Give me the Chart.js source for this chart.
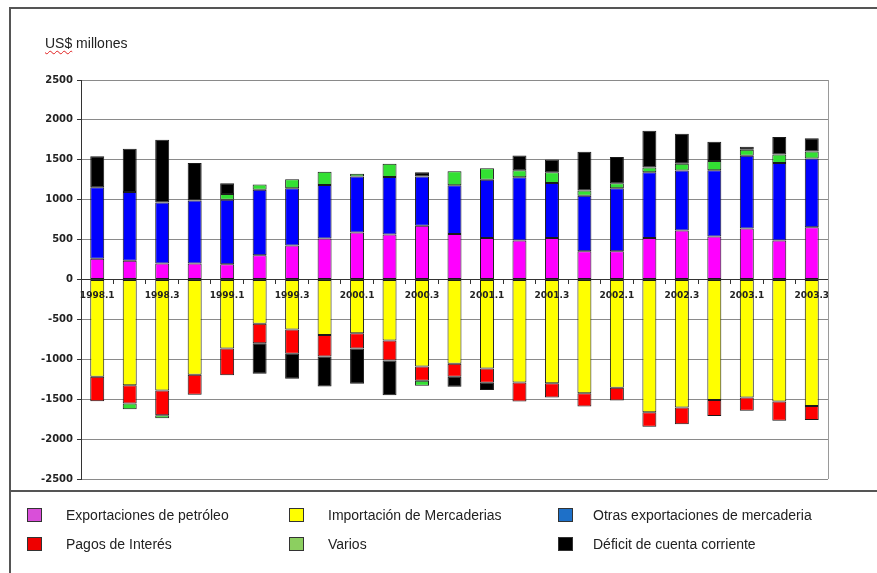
<!DOCTYPE html>
<html lang="es">
<head>
<meta charset="utf-8">
<title>Balanza de pagos trimestral</title>
<script src="https://cdn.jsdelivr.net/npm/chart.js@4/dist/chart.umd.min.js"></script>
<style>
  html, body { margin: 0; padding: 0; background: #fff; }
  body { width: 877px; height: 573px; position: relative; overflow: hidden; font-family: "Liberation Sans", Arial, sans-serif; }
  #wrap { position: absolute; left: 0; top: 0; width: 877px; height: 573px; }
  .frame { position: absolute; left: 9px; top: 7px; width: 900px; height: 600px; border-left: 2px solid #555; border-top: 2px solid #555; box-sizing: border-box; pointer-events: none; }
  .sep { position: absolute; left: 10px; top: 490px; width: 880px; height: 0; border-top: 2px solid #555; }
  .unit { position: absolute; left: 45px; top: 35px; font-size: 14px; color: #222; white-space: nowrap; }
  .unit .sq { text-decoration: underline wavy #e02020; text-decoration-thickness: 1px; text-underline-offset: 2px; }
  .lg { position: absolute; display: flex; align-items: center; font-size: 14px; color: #222; white-space: nowrap; }
  .lg .box { width: 13px; height: 12px; border: 1px solid #333; flex: none; }
</style>
</head>
<body>
<div id="wrap"><canvas id="c" width="877" height="573"></canvas></div>
<div class="frame"></div>
<div class="sep"></div>
<div class="unit"><span class="sq">US$</span> millones</div>
<div id="legend"></div>
<script>
// Trimestres 1998.1 – 2003.3
const trimestres = ['1998.1','1998.2','1998.3','1998.4','1999.1','1999.2','1999.3','1999.4',
  '2000.1','2000.2','2000.3','2000.4','2001.1','2001.2','2001.3','2001.4',
  '2002.1','2002.2','2002.3','2002.4','2003.1','2003.2','2003.3'];

// US$ millones por trimestre
const exportPetroleo = [260, 235, 200, 200, 190, 305, 425, 515, 590, 565, 675, 570, 520, 490, 520, 355, 355, 520, 615, 540, 640, 490, 655];
const importMercaderias = [-1220, -1325, -1390, -1195, -865, -555, -625, -695, -675, -765, -1090, -1055, -1115, -1290, -1300, -1425, -1355, -1665, -1605, -1510, -1480, -1530, -1585];
const otrasExport = [895, 860, 765, 790, 810, 820, 720, 670, 700, 720, 615, 610, 730, 790, 690, 695, 790, 825, 750, 830, 910, 970, 860];
const pagosInteres = [-305, -230, -310, -250, -335, -245, -305, -270, -190, -250, -180, -165, -180, -240, -180, -165, -160, -180, -210, -200, -165, -240, -175];
const varios = [null, -70, -40, null, 70, 65, 110, 165, 35, 165, -60, 175, 145, 90, 135, 65, 60, 60, 85, 115, 75, 105, 90];
const deficitCuenta = [390, 545, 785, 470, 135, -380, -315, -375, -440, -435, 55, -125, -90, 185, 160, 485, 330, 460, 375, 240, 40, 220, 165];

// Eje vertical
const yMin = -2500, yMax = 2500, yStep = 500;

const series = [
  { label: 'Exportaciones de petróleo', data: exportPetroleo, color: '#ff00ff', key: '#d94fd9' },
  { label: 'Importación de Mercaderias', data: importMercaderias, color: '#ffff00', key: '#ffff00' },
  { label: 'Otras exportaciones de mercaderia', data: otrasExport, color: '#0000ff', key: '#1e70c8' },
  { label: 'Pagos de Interés', data: pagosInteres, color: '#ff0000', key: '#ee0000' },
  { label: 'Varios', data: varios, color: '#33e033', key: '#8ccf60' },
  { label: 'Déficit de cuenta corriente', data: deficitCuenta, color: '#000000', key: '#000000' }
];

// Borde derecho del área de trazado
const plotFrame = {
  id: 'plotFrame',
  afterDraw(chart) {
    const { ctx, chartArea: a } = chart;
    ctx.save();
    ctx.strokeStyle = '#9a9a9a';
    ctx.lineWidth = 1;
    ctx.beginPath();
    ctx.moveTo(Math.round(a.right) + 0.5, a.top);
    ctx.lineTo(Math.round(a.right) + 0.5, a.bottom);
    ctx.stroke();
    ctx.restore();
  }
};

const tickFont = { family: '"DejaVu Sans", Verdana, sans-serif', weight: 'bold' };

const chart = new Chart(document.getElementById('c'), {
  type: 'bar',
  data: {
    labels: trimestres,
    datasets: series.map(s => ({
      label: s.label,
      data: s.data,
      backgroundColor: s.color,
      borderColor: '#1a1a1a',
      borderWidth: 1,
      borderSkipped: false,
      barPercentage: 0.43,
      categoryPercentage: 1
    }))
  },
  options: {
    responsive: false,
    animation: false,
    layout: { padding: { left: 31, right: 49, top: 80, bottom: 94 } },
    plugins: { legend: { display: false }, tooltip: { enabled: false } },
    scales: {
      x: {
        stacked: true,
        position: { y: 0 },
        grid: { display: true, drawOnChartArea: false, offset: true, tickLength: 4, color: '#333', tickColor: '#333', z: 1 },
        border: { color: '#333', width: 1, z: 1 },
        ticks: {
          z: 1,
          autoSkip: false,
          maxRotation: 0,
          padding: 7,
          color: '#222',
          font: Object.assign({ size: 9 }, tickFont),
          callback: (v, i) => (i % 2 === 0 ? trimestres[i] : '')
        }
      },
      y: {
        stacked: true,
        min: yMin,
        max: yMax,
        afterFit: (scale) => { scale.width = 50; },
        grid: { color: '#8a8a8a', lineWidth: 1, tickLength: 4, tickColor: '#333' },
        border: { color: '#333', width: 1 },
        ticks: {
          stepSize: yStep,
          padding: 4,
          color: '#222',
          font: Object.assign({ size: 10 }, tickFont),
          callback: (v) => String(v)
        }
      }
    }
  },
  plugins: [plotFrame]
});

// Leyenda en tres columnas y dos filas
const legendCols = [{ x: 27, gap: 24 }, { x: 289, gap: 24 }, { x: 558, gap: 20 }];
const legendRows = [507, 536];
const legendEl = document.getElementById('legend');
chart.data.datasets.forEach((ds, i) => {
  const col = legendCols[i % 3], row = legendRows[Math.floor(i / 3)];
  const item = document.createElement('div');
  item.className = 'lg';
  item.style.left = col.x + 'px';
  item.style.top = row + 'px';
  const box = document.createElement('span');
  box.className = 'box';
  box.style.background = series[i].key;
  const txt = document.createElement('span');
  txt.style.marginLeft = col.gap + 'px';
  txt.textContent = ds.label;
  item.appendChild(box);
  item.appendChild(txt);
  legendEl.appendChild(item);
});
</script>
</body>
</html>
